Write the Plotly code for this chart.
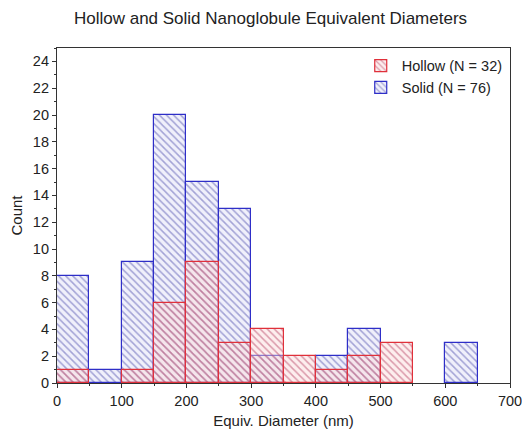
import plotly.graph_objects as go

bin_starts = [0, 50, 100, 150, 200, 250, 300, 350, 400, 450, 500, 550, 600]
hollow_counts = [1, 0, 1, 6, 9, 3, 4, 2, 1, 2, 3, 0, 0]
solid_counts = [8, 1, 9, 20, 15, 13, 2, 0, 2, 4, 0, 0, 3]
bin_width = 50
hollow_label = "Hollow (N = 32)"
solid_label = "Solid (N = 76)"

centers = [b + bin_width / 2 for b in bin_starts]
hollow_plot = [c if c > 0 else None for c in hollow_counts]
solid_plot = [c if c > 0 else None for c in solid_counts]

FONT = "Liberation Sans, Arial"
W, H = 522, 431

fig = go.Figure()
fig.add_trace(go.Bar(
    x=centers, y=solid_plot, width=bin_width, name=solid_label, legendrank=2,
    marker=dict(color="rgba(215,215,245,0.55)",
                line=dict(color="#2e2ec8", width=1.2),
                pattern=dict(shape="\\", fgcolor="#5555b0", bgcolor="rgba(228,228,248,0.55)",
                             size=5, solidity=0.3, fillmode="overlay")),
))
fig.add_trace(go.Bar(
    x=centers, y=hollow_plot, width=bin_width, name=hollow_label, legendrank=1,
    marker=dict(color="rgba(250,215,215,0.45)",
                line=dict(color="#e0303a", width=1.2),
                pattern=dict(shape="\\", fgcolor="#b84466", bgcolor="rgba(250,218,218,0.45)",
                             size=5, solidity=0.3, fillmode="overlay")),
))

axis_common = dict(
    showline=True, linecolor="#333333", linewidth=1.2, mirror=True,
    ticks="outside", ticklen=4, tickcolor="#333333", showgrid=False, zeroline=False,
    automargin=False, ticklabeloverflow="allow",
    tickfont=dict(family=FONT, size=14.5, color="#222222"),
)

fig.update_layout(
    width=W, height=H,
    margin=dict(l=57, r=12, t=48, b=48, autoexpand=False),
    paper_bgcolor="white", plot_bgcolor="white",
    barmode="overlay", bargap=0,
    title=dict(text="Hollow and Solid Nanoglobule Equivalent Diameters",
               xref="container", x=270.5 / W, xanchor="center",
               yref="container", y=1 - 18 / H, yanchor="middle",
               font=dict(family=FONT, size=17, color="#222222")),
    xaxis=dict(range=[0, 700], dtick=100, title=dict(text="Equiv. Diameter (nm)", standoff=7,
               font=dict(family=FONT, size=15, color="#222222")),
               minor=dict(ticks="outside", ticklen=2, dtick=50, tickcolor="#333333"),
               **axis_common),
    yaxis=dict(range=[0, 25], dtick=2, title=dict(text="Count", standoff=6,
               font=dict(family=FONT, size=15, color="#222222")),
               minor=dict(ticks="outside", ticklen=2, dtick=1, tickcolor="#333333"),
               **axis_common),
    legend=dict(x=0.995, y=0.995, xanchor="right", yanchor="top",
                bgcolor="rgba(0,0,0,0)", borderwidth=0,
                font=dict(family=FONT, size=14.5, color="#222222"),
                itemwidth=32, tracegroupgap=0),
    showlegend=True,
)

fig.write_html("out.html", config={"displayModeBar": False},
               post_script="document.body.style.margin='0';document.body.style.overflow='hidden';")
